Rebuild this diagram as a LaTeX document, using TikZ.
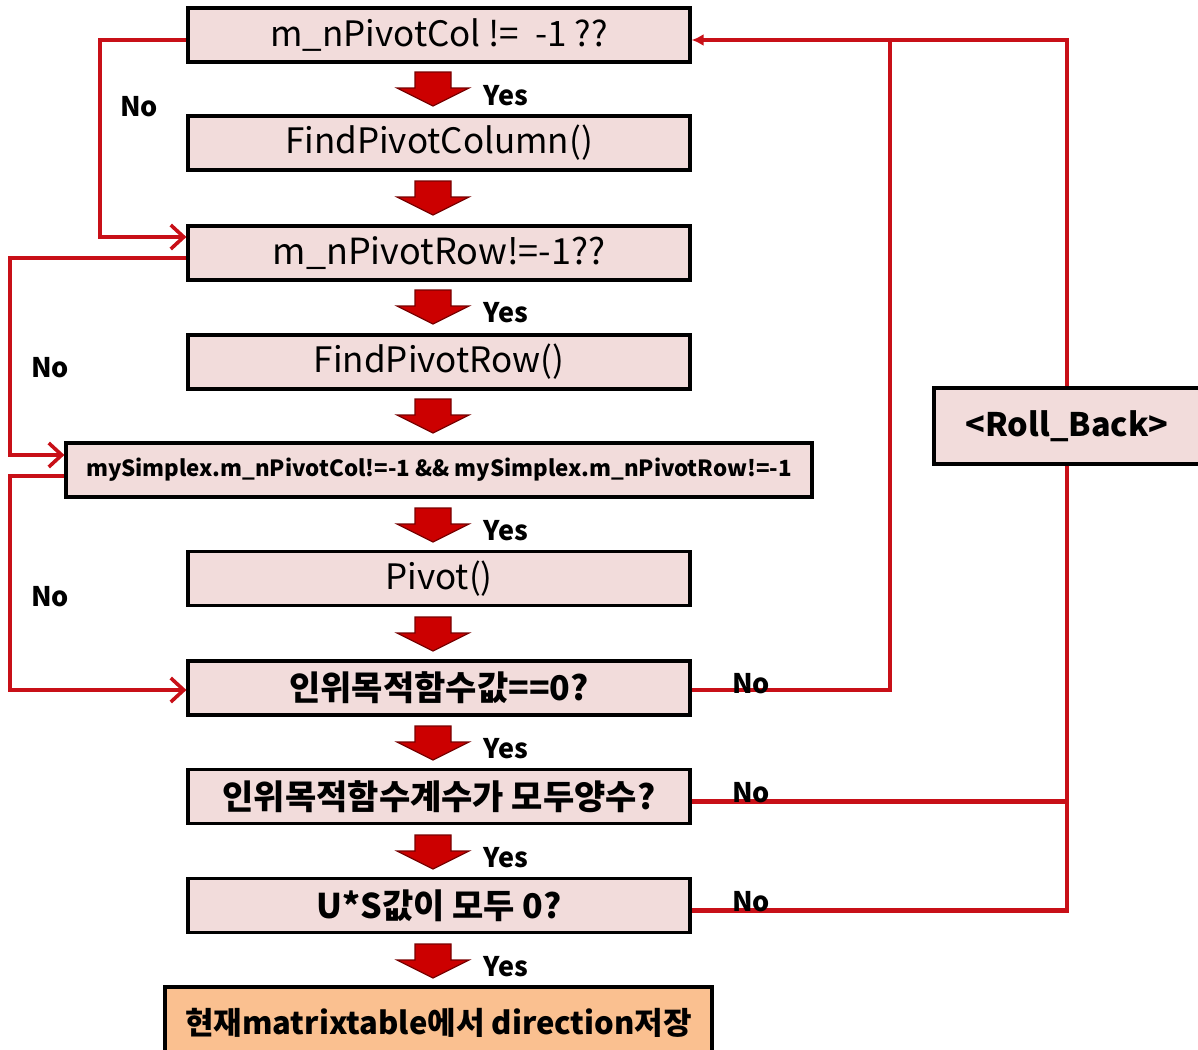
\documentclass[tikz,border=0pt]{standalone}
\usepackage{fontspec}
\setmainfont{Noto Sans CJK KR}
\usetikzlibrary{arrows.meta}
\definecolor{boxpink}{RGB}{242,220,219}
\definecolor{boxorange}{RGB}{250,192,144}
\definecolor{linered}{RGB}{200,16,24}
\definecolor{arrfill}{RGB}{204,0,0}
\definecolor{arredge}{RGB}{120,0,0}
\tikzset{
  stepbox/.style={draw=black, line width=3.2pt, fill=boxpink, minimum height=54pt, inner sep=0pt, font=\fontsize{35}{40}\selectfont},
  kbox/.style={stepbox, font=\fontsize{34}{40}\selectfont\bfseries},
  rl/.style={draw=linered, line width=4.2pt},
  barb/.style={-{Straight Barb[length=13pt,width=24pt,line width=3.6pt]}},
  lbl/.style={font=\fontsize{27}{32}\selectfont\bfseries, inner sep=0pt},
  blockarrow/.pic={
    \filldraw[fill=arrfill, draw=arredge, line width=1.2pt, line join=miter]
      (-18,0) -- (18,0) -- (18,16) -- (36,16) -- (0,34) -- (-36,16) -- (-18,16) -- cycle;
  }
}
\begin{document}
\begin{tikzpicture}[x=1pt,y=-1pt]
\useasboundingbox (0,0) rectangle (1198,1049);
% boxes
\node[stepbox, minimum width=502pt] (b1) at (439,35) {m\_nPivotCol != \ -1 ??};
\node[stepbox, minimum width=502pt] (b2) at (439,143) {FindPivotColumn()};
\node[stepbox, minimum width=502pt, font=\fontsize{36}{42}\selectfont] (b3) at (439,253) {m\_nPivotRow!=-1??};
\node[stepbox, minimum width=502pt] (b4) at (439,362) {FindPivotRow()};
\node[stepbox, minimum width=746pt, font=\fontsize{22.3}{26}\selectfont\bfseries] (b5) at (439,470) {mySimplex.m\_nPivotCol!=-1 \&\& mySimplex.m\_nPivotRow!=-1};
\node[stepbox, minimum width=502pt] (b6) at (439,578.5) {Pivot()};
\node[kbox, minimum width=502pt] (b7) at (439,688) {인위목적함수값==0?};
\node[kbox, minimum width=502pt] (b8) at (439,796.5) {인위목적함수계수가 모두양수?};
\node[kbox, minimum width=502pt] (b9) at (439,905.5) {U*S값이 모두 0?};
\node[stepbox, fill=boxorange, minimum width=547pt, minimum height=72pt, font=\fontsize{31}{36}\selectfont\bfseries] (b10) at (438.5,1023) {현재matrixtable에서 direction저장};
\node[stepbox, minimum width=266pt, minimum height=76pt, font=\fontsize{32.4}{38}\selectfont\bfseries] (rb) at (1067,426) {<Roll\_Back>};
% block arrows
\foreach \y in {72,181,290,399,508,617,726,835,944} {
  \pic at (433,\y) {blockarrow};
}
% Yes labels
\foreach \y/\n in {96/y1,313/y2,531/y3,749/y4,858/y5,967/y6} {
  \node[lbl] (\n) at (506,\y) {Yes};
}
% left connectors
\draw[rl, barb] ([yshift=-5pt]b1.west) -| (100,100) |- ([yshift=16pt]b3.west);
\draw[rl, barb] ([yshift=-5pt]b3.west) -| (10,300) |- ([yshift=15pt]b5.west);
\draw[rl, barb] ([yshift=-6pt]b5.west) -| (10,600) |- ([yshift=-2pt]b7.west);
\node[lbl] (n1) at (139,107) {No};
\node[lbl] (n2) at (50,368) {No};
\node[lbl] (n3) at (50,597) {No};
% right connectors
\draw[rl, -{Latex[length=12pt,width=12pt]}] ([yshift=-2pt]b7.east) -| (890,300) |- ([yshift=-5pt]b1.east);
\draw[rl] (890,40) -| (rb.north);
\draw[rl] (rb.south) |- ([yshift=-5pt]b9.east);
\draw[rl] ([yshift=-5pt]b8.east) -- (1067,801.5);
\node[lbl] (n4) at (751,684) {No};
\node[lbl] (n5) at (751,793) {No};
\node[lbl] (n6) at (751,902) {No};
\end{tikzpicture}
\end{document}
